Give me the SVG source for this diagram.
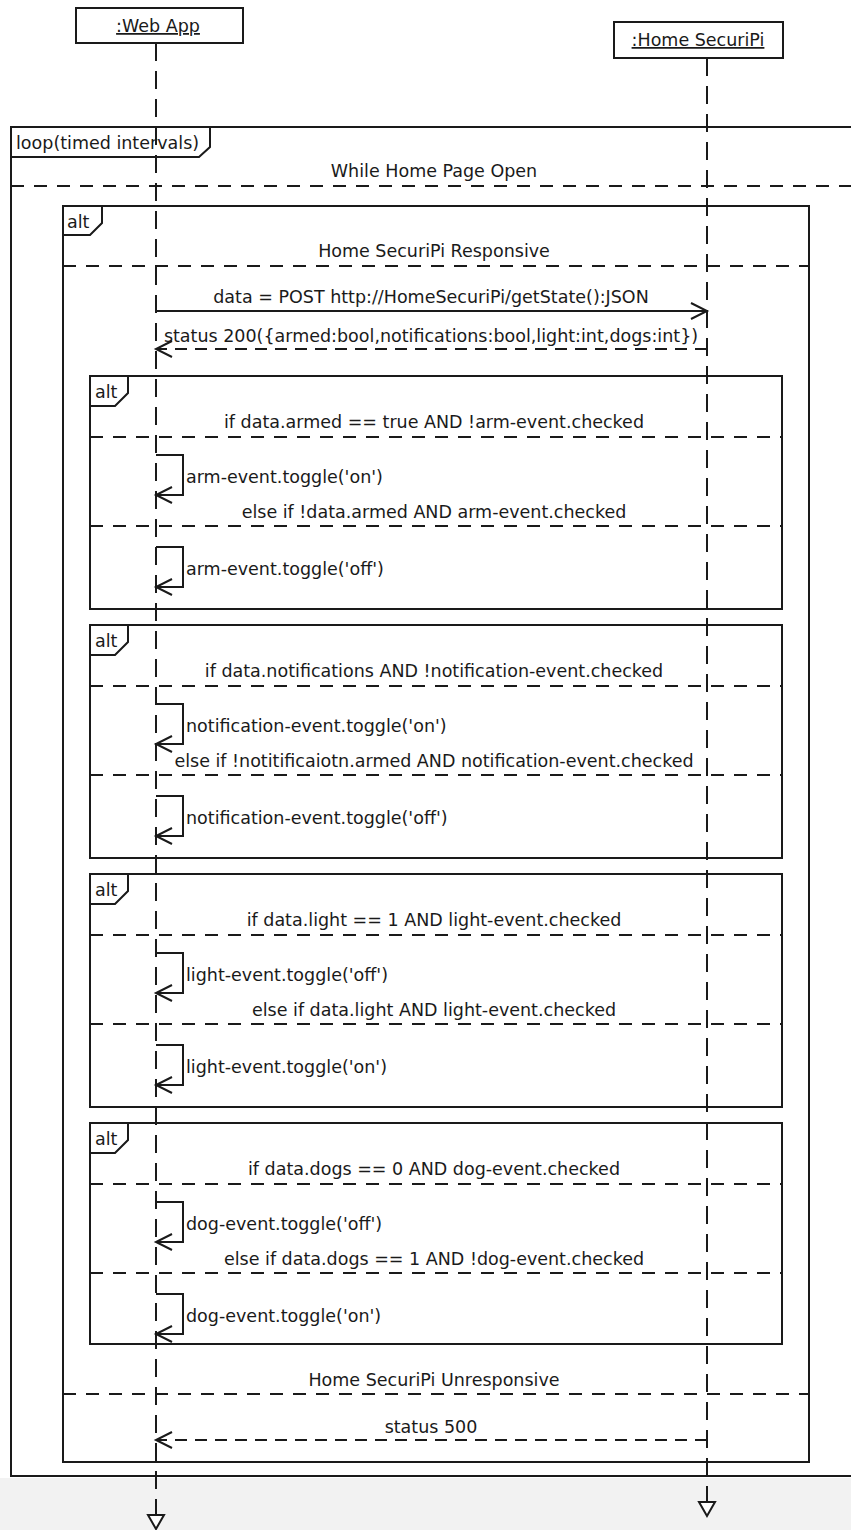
<svg xmlns="http://www.w3.org/2000/svg" width="851" height="1530" viewBox="0 0 851 1530">
<style>
.frame{fill:none;stroke:#1a1a1a;stroke-width:2}
.lbl{fill:#fff;stroke:#1a1a1a;stroke-width:2}
.sep{stroke:#1a1a1a;stroke-width:2;stroke-dasharray:13 10}
.life{stroke:#1a1a1a;stroke-width:2;stroke-dasharray:18 10}
.box{fill:#fff;stroke:#1a1a1a;stroke-width:2}
.msg{fill:none;stroke:#1a1a1a;stroke-width:2}
.ret{stroke-dasharray:12 8}
.end{fill:#fff;stroke:#1a1a1a;stroke-width:2}
text{font-family:"DejaVu Sans","Liberation Sans",sans-serif;font-size:17.5px;fill:#1a1a1a}
.c{text-anchor:middle}
.u{text-decoration:underline}
</style>
<defs>
<marker id="open" markerWidth="18" markerHeight="18" refX="16" refY="8" orient="auto" markerUnits="userSpaceOnUse" overflow="visible">
<path d="M0,0 L16,8 L0,16" fill="none" stroke="#1a1a1a" stroke-width="2"/>
</marker>
</defs>
<rect x="0" y="0" width="851" height="1530" fill="#fff"/>
<rect x="0" y="1478" width="851" height="52" fill="#f2f2f2"/>

<g id="loop-frame">
<path class="frame" d="M860,127 H11 V1476 H860"/>
<path class="lbl" d="M11,127 H210 V147 L199,157 H11 Z"/>
<text x="16" y="149">loop(timed intervals)</text>
<text class="c" x="434" y="177">While Home Page Open</text>
<line class="sep" x1="11" y1="186" x2="851" y2="186"/>
</g>

<g id="alt-responsive">
<rect class="frame" x="63" y="206" width="746" height="1256"/>
<path class="lbl" d="M63,206 H102 V223 L90,235 H63 Z"/>
<text x="67" y="228">alt</text>
<text class="c" x="434" y="257">Home SecuriPi Responsive</text>
<line class="sep" x1="63" y1="266" x2="809" y2="266"/>
<text class="c" x="434" y="1386">Home SecuriPi Unresponsive</text>
<line class="sep" x1="63" y1="1394" x2="809" y2="1394"/>
</g>

<g id="alt-armed">
<rect class="frame" x="90" y="376" width="692" height="233"/>
<path class="lbl" d="M90,376 H128 V393 L115,406 H90 Z"/>
<text x="95" y="398">alt</text>
<text class="c" x="434" y="428">if data.armed == true AND !arm-event.checked</text>
<line class="sep" x1="90" y1="437" x2="782" y2="437"/>
<text class="c" x="434" y="518">else if !data.armed AND arm-event.checked</text>
<line class="sep" x1="90" y1="526" x2="782" y2="526"/>
</g>

<g id="alt-notifications">
<rect class="frame" x="90" y="625" width="692" height="233"/>
<path class="lbl" d="M90,625 H128 V642 L115,655 H90 Z"/>
<text x="95" y="647">alt</text>
<text class="c" x="434" y="677">if data.notifications AND !notification-event.checked</text>
<line class="sep" x1="90" y1="686" x2="782" y2="686"/>
<text class="c" x="434" y="767">else if !notitificaiotn.armed AND notification-event.checked</text>
<line class="sep" x1="90" y1="775" x2="782" y2="775"/>
</g>

<g id="alt-light">
<rect class="frame" x="90" y="874" width="692" height="233"/>
<path class="lbl" d="M90,874 H128 V891 L115,904 H90 Z"/>
<text x="95" y="896">alt</text>
<text class="c" x="434" y="926">if data.light == 1 AND light-event.checked</text>
<line class="sep" x1="90" y1="935" x2="782" y2="935"/>
<text class="c" x="434" y="1016">else if data.light AND light-event.checked</text>
<line class="sep" x1="90" y1="1024" x2="782" y2="1024"/>
</g>

<g id="alt-dogs">
<rect class="frame" x="90" y="1123" width="692" height="221"/>
<path class="lbl" d="M90,1123 H128 V1140 L115,1153 H90 Z"/>
<text x="95" y="1145">alt</text>
<text class="c" x="434" y="1175">if data.dogs == 0 AND dog-event.checked</text>
<line class="sep" x1="90" y1="1184" x2="782" y2="1184"/>
<text class="c" x="434" y="1265">else if data.dogs == 1 AND !dog-event.checked</text>
<line class="sep" x1="90" y1="1273" x2="782" y2="1273"/>
</g>

<g id="webapp">
<line class="life" x1="156" y1="43" x2="156" y2="1515"/>
<rect class="box" x="76" y="8" width="167" height="35"/>
<text class="c u" x="158" y="32">:Web App</text>
<polygon class="end" points="148,1515 164,1515 156,1529"/>
</g>

<g id="homesecuripi">
<line class="life" x1="707" y1="58" x2="707" y2="1502"/>
<rect class="box" x="614" y="22" width="169" height="36"/>
<text class="c u" x="698" y="46">:Home SecuriPi</text>
<polygon class="end" points="699,1502 715,1502 707,1516"/>
</g>

<g id="connectors">
<path class="msg" d="M156,311 H707" marker-end="url(#open)"/>
<text class="c" x="431" y="303">data = POST http://HomeSecuriPi/getState():JSON</text>
<path class="msg ret" d="M707,349 H156" marker-end="url(#open)"/>
<text class="c" x="431" y="342">status 200({armed:bool,notifications:bool,light:int,dogs:int})</text>

<path class="msg" d="M156,455 H183 V495 H156" marker-end="url(#open)"/>
<text x="186" y="483">arm-event.toggle('on')</text>
<path class="msg" d="M156,547 H183 V587 H156" marker-end="url(#open)"/>
<text x="186" y="575">arm-event.toggle('off')</text>

<path class="msg" d="M156,704 H183 V744 H156" marker-end="url(#open)"/>
<text x="186" y="732">notification-event.toggle('on')</text>
<path class="msg" d="M156,796 H183 V836 H156" marker-end="url(#open)"/>
<text x="186" y="824">notification-event.toggle('off')</text>

<path class="msg" d="M156,953 H183 V993 H156" marker-end="url(#open)"/>
<text x="186" y="981">light-event.toggle('off')</text>
<path class="msg" d="M156,1045 H183 V1085 H156" marker-end="url(#open)"/>
<text x="186" y="1073">light-event.toggle('on')</text>

<path class="msg" d="M156,1202 H183 V1242 H156" marker-end="url(#open)"/>
<text x="186" y="1230">dog-event.toggle('off')</text>
<path class="msg" d="M156,1294 H183 V1334 H156" marker-end="url(#open)"/>
<text x="186" y="1322">dog-event.toggle('on')</text>

<path class="msg ret" d="M707,1440 H156" marker-end="url(#open)"/>
<text class="c" x="431" y="1433">status 500</text>
</g>
</svg>
